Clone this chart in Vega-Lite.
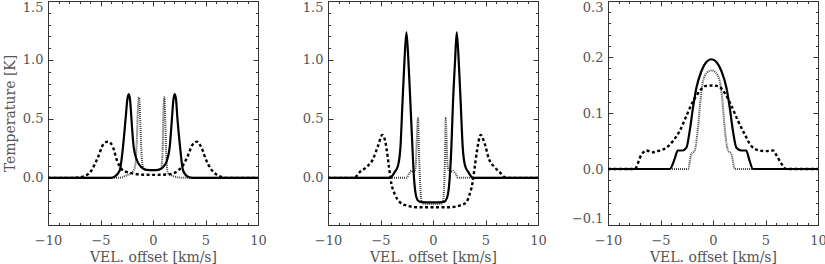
{
  "$schema": "https://vega.github.io/schema/vega-lite/v6.json",
  "autosize": {"type": "pad"},
  "padding": {"left": 2, "top": 0, "right": 0, "bottom": 0},
  "bounds": "flush",
  "spacing": 70,
  "config": {
    "view": {"stroke": "#333", "strokeWidth": 1},
    "axis": {"labelFont": "DejaVu Serif", "labelFontSize": 13, "labelColor": "#555", "titleFont": "DejaVu Serif", "titleFontSize": 14, "titleFontWeight": "normal", "titleColor": "#555", "tickColor": "#333", "tickWidth": 1, "domain": false, "grid": false},
    "axisX": {"labelFlush": false}
  },
  "datasets": {
    "p1solid": [{"vel":-10,"temp":0},{"vel":-4,"temp":0},{"vel":-3.65,"temp":0.01},{"vel":-3.17,"temp":0.062},{"vel":-2.86,"temp":0.26},{"vel":-2.6,"temp":0.51},{"vel":-2.45,"temp":0.66},{"vel":-2.31,"temp":0.71},{"vel":-2.18,"temp":0.66},{"vel":-2.06,"temp":0.51},{"vel":-1.84,"temp":0.26},{"vel":-1.52,"temp":0.147},{"vel":-1.11,"temp":0.09},{"vel":-0.63,"temp":0.068},{"vel":0,"temp":0.065},{"vel":0.48,"temp":0.068},{"vel":0.95,"temp":0.09},{"vel":1.33,"temp":0.147},{"vel":1.59,"temp":0.26},{"vel":1.81,"temp":0.51},{"vel":1.94,"temp":0.66},{"vel":2.07,"temp":0.71},{"vel":2.2,"temp":0.66},{"vel":2.32,"temp":0.51},{"vel":2.58,"temp":0.26},{"vel":2.86,"temp":0.062},{"vel":3.33,"temp":0.01},{"vel":3.8,"temp":0},{"vel":10,"temp":0}],
    "p1dot": [{"vel":-10,"temp":0},{"vel":-3.3,"temp":0},{"vel":-2.54,"temp":0.02},{"vel":-1.97,"temp":0.05},{"vel":-1.7,"temp":0.1},{"vel":-1.55,"temp":0.3},{"vel":-1.45,"temp":0.55},{"vel":-1.33,"temp":0.683},{"vel":-1.22,"temp":0.5},{"vel":-1.1,"temp":0.22},{"vel":-0.95,"temp":0.09},{"vel":-0.7,"temp":0.068},{"vel":0,"temp":0.065},{"vel":0.6,"temp":0.068},{"vel":0.8,"temp":0.09},{"vel":0.92,"temp":0.25},{"vel":0.98,"temp":0.5},{"vel":1.08,"temp":0.683},{"vel":1.18,"temp":0.45},{"vel":1.28,"temp":0.15},{"vel":1.43,"temp":0.04},{"vel":1.8,"temp":0.02},{"vel":2.3,"temp":0.005},{"vel":3,"temp":0},{"vel":10,"temp":0}],
    "p1dash": [{"vel":-10,"temp":0},{"vel":-7.62,"temp":0},{"vel":-6.67,"temp":0.01},{"vel":-5.87,"temp":0.062},{"vel":-5.24,"temp":0.175},{"vel":-4.76,"temp":0.28},{"vel":-4.29,"temp":0.307},{"vel":-3.81,"temp":0.26},{"vel":-3.43,"temp":0.147},{"vel":-3.0,"temp":0.076},{"vel":-2.54,"temp":0.05},{"vel":-1.9,"temp":0.037},{"vel":-1.27,"temp":0.028},{"vel":0,"temp":0.025},{"vel":1.27,"temp":0.028},{"vel":1.9,"temp":0.037},{"vel":2.38,"temp":0.062},{"vel":2.86,"temp":0.107},{"vel":3.33,"temp":0.19},{"vel":3.75,"temp":0.28},{"vel":4.19,"temp":0.307},{"vel":4.6,"temp":0.26},{"vel":5.08,"temp":0.147},{"vel":5.56,"temp":0.07},{"vel":6.19,"temp":0.02},{"vel":6.98,"temp":0},{"vel":10,"temp":0}],
    "p2solid": [{"vel":-10,"temp":0},{"vel":-4.12,"temp":0},{"vel":-3.65,"temp":0.048},{"vel":-3.33,"temp":0.104},{"vel":-3.1,"temp":0.26},{"vel":-2.91,"temp":0.63},{"vel":-2.72,"temp":0.99},{"vel":-2.53,"temp":1.234},{"vel":-2.34,"temp":0.99},{"vel":-2.15,"temp":0.63},{"vel":-1.96,"temp":0.26},{"vel":-1.81,"temp":0},{"vel":-1.65,"temp":-0.136},{"vel":-1.43,"temp":-0.192},{"vel":-1.11,"temp":-0.206},{"vel":0,"temp":-0.208},{"vel":0.95,"temp":-0.206},{"vel":1.21,"temp":-0.192},{"vel":1.43,"temp":-0.136},{"vel":1.59,"temp":0},{"vel":1.75,"temp":0.26},{"vel":1.9,"temp":0.63},{"vel":2.1,"temp":0.99},{"vel":2.26,"temp":1.234},{"vel":2.45,"temp":0.99},{"vel":2.64,"temp":0.63},{"vel":2.83,"temp":0.26},{"vel":3.05,"temp":0.104},{"vel":3.37,"temp":0.048},{"vel":3.81,"temp":0},{"vel":10,"temp":0}],
    "p2dot": [{"vel":-10,"temp":0},{"vel":-2.53,"temp":0},{"vel":-2.28,"temp":0.034},{"vel":-2.06,"temp":0.06},{"vel":-1.84,"temp":0.048},{"vel":-1.65,"temp":0.09},{"vel":-1.55,"temp":0.3},{"vel":-1.43,"temp":0.505},{"vel":-1.33,"temp":0.2},{"vel":-1.22,"temp":-0.05},{"vel":-1.1,"temp":-0.2},{"vel":-0.9,"temp":-0.22},{"vel":0,"temp":-0.222},{"vel":0.75,"temp":-0.22},{"vel":0.95,"temp":-0.2},{"vel":1.07,"temp":-0.05},{"vel":1.15,"temp":0.2},{"vel":1.21,"temp":0.505},{"vel":1.3,"temp":0.3},{"vel":1.4,"temp":0.09},{"vel":1.65,"temp":0.048},{"vel":1.9,"temp":0.06},{"vel":2.16,"temp":0.034},{"vel":2.38,"temp":0},{"vel":10,"temp":0}],
    "p2dash": [{"vel":-10,"temp":0},{"vel":-7.5,"temp":0},{"vel":-6.98,"temp":0.048},{"vel":-6.35,"temp":0.09},{"vel":-5.71,"temp":0.16},{"vel":-5.24,"temp":0.27},{"vel":-4.82,"temp":0.364},{"vel":-4.5,"temp":0.29},{"vel":-4.19,"temp":0.09},{"vel":-3.96,"temp":-0.05},{"vel":-3.65,"temp":-0.136},{"vel":-3.17,"temp":-0.206},{"vel":-2.53,"temp":-0.235},{"vel":-1.58,"temp":-0.249},{"vel":0,"temp":-0.25},{"vel":1.6,"temp":-0.249},{"vel":2.54,"temp":-0.235},{"vel":3.18,"temp":-0.206},{"vel":3.5,"temp":-0.136},{"vel":3.75,"temp":-0.05},{"vel":3.97,"temp":0.09},{"vel":4.19,"temp":0.23},{"vel":4.54,"temp":0.364},{"vel":4.92,"temp":0.29},{"vel":5.33,"temp":0.16},{"vel":5.87,"temp":0.09},{"vel":6.35,"temp":0.048},{"vel":6.98,"temp":0},{"vel":10,"temp":0}],
    "p3solid": [{"vel":-10,"temp":0},{"vel":-4.12,"temp":0},{"vel":-3.65,"temp":0.018},{"vel":-3.36,"temp":0.033},{"vel":-2.9,"temp":0.033},{"vel":-2.53,"temp":0.038},{"vel":-2.22,"temp":0.068},{"vel":-1.9,"temp":0.11},{"vel":-1.58,"temp":0.145},{"vel":-1.1,"temp":0.175},{"vel":-0.63,"temp":0.191},{"vel":-0.15,"temp":0.196},{"vel":0.32,"temp":0.191},{"vel":0.8,"temp":0.175},{"vel":1.28,"temp":0.145},{"vel":1.59,"temp":0.11},{"vel":1.9,"temp":0.068},{"vel":2.23,"temp":0.038},{"vel":2.7,"temp":0.033},{"vel":3.17,"temp":0.033},{"vel":3.43,"temp":0.018},{"vel":3.81,"temp":0},{"vel":10,"temp":0}],
    "p3dot": [{"vel":-10,"temp":0},{"vel":-2.38,"temp":0},{"vel":-2.06,"temp":0.027},{"vel":-1.74,"temp":0.033},{"vel":-1.43,"temp":0.074},{"vel":-1.2,"temp":0.121},{"vel":-0.95,"temp":0.157},{"vel":-0.57,"temp":0.172},{"vel":-0.15,"temp":0.176},{"vel":0.26,"temp":0.172},{"vel":0.64,"temp":0.157},{"vel":0.9,"temp":0.121},{"vel":1.11,"temp":0.074},{"vel":1.43,"temp":0.033},{"vel":1.75,"temp":0.027},{"vel":2.07,"temp":0},{"vel":10,"temp":0}],
    "p3dash": [{"vel":-10,"temp":0},{"vel":-7.46,"temp":0},{"vel":-6.83,"temp":0.025},{"vel":-6.35,"temp":0.033},{"vel":-5.71,"temp":0.03},{"vel":-5.08,"temp":0.033},{"vel":-4.44,"temp":0.038},{"vel":-3.81,"temp":0.05},{"vel":-3.17,"temp":0.068},{"vel":-2.53,"temp":0.095},{"vel":-1.9,"temp":0.121},{"vel":-1.27,"temp":0.139},{"vel":-0.79,"temp":0.148},{"vel":0,"temp":0.149},{"vel":0.48,"temp":0.148},{"vel":1.11,"temp":0.136},{"vel":1.75,"temp":0.113},{"vel":2.38,"temp":0.086},{"vel":3.02,"temp":0.062},{"vel":3.65,"temp":0.041},{"vel":4.44,"temp":0.033},{"vel":5.08,"temp":0.032},{"vel":5.71,"temp":0.033},{"vel":6.03,"temp":0.025},{"vel":6.5,"temp":0.01},{"vel":6.98,"temp":0},{"vel":10,"temp":0}]
  },
  "hconcat": [
    {
      "width": 210, "height": 224,
      "layer": [
        {"data": {"name": "p1dot"}, "mark": {"type": "line", "interpolate": "monotone", "color": "#444", "strokeWidth": 2, "strokeDash": [1, 1]},
         "encoding": {
           "x": {"field": "vel", "type": "quantitative", "scale": {"domain": [-10, 10], "nice": false, "zero": false}, "axis": {"orient": "bottom", "values": [-10, -5, 0, 5, 10], "tickSize": -5, "labelPadding": 14, "format": "d", "title": "VEL. offset [km/s]", "titlePadding": 3}},
           "y": {"field": "temp", "type": "quantitative", "scale": {"domain": [-0.4, 1.5], "nice": false, "zero": false}, "axis": {"orient": "left", "values": [0, 0.5, 1, 1.5], "tickSize": -5, "labelPadding": 10, "format": ".1f", "labelFlush": true, "title": "Temperature [K]", "titlePadding": 5}}}},
        {"data": {"name": "p1dash"}, "mark": {"type": "line", "interpolate": "monotone", "color": "black", "strokeWidth": 2.4, "strokeDash": [3, 2.5]},
         "encoding": {
           "x": {"field": "vel", "type": "quantitative", "scale": {"domain": [-10, 10], "nice": false, "zero": false}, "axis": {"orient": "top", "values": [-10, -5, 0, 5, 10], "tickSize": -5, "labels": false, "title": null}},
           "y": {"field": "temp", "type": "quantitative", "scale": {"domain": [-0.4, 1.5], "nice": false, "zero": false}, "axis": {"orient": "right", "values": [0, 0.5, 1, 1.5], "tickSize": -5, "labels": false, "title": null}}}},
        {"data": {"name": "p1solid"}, "mark": {"type": "line", "interpolate": "monotone", "color": "black", "strokeWidth": 2.2},
         "encoding": {
           "x": {"field": "vel", "type": "quantitative", "scale": {"domain": [-10, 10], "nice": false, "zero": false}, "axis": {"orient": "bottom", "values": [-9, -8, -7, -6, -4, -3, -2, -1, 1, 2, 3, 4, 6, 7, 8, 9], "tickSize": -2.5, "labels": false, "title": null}},
           "y": {"field": "temp", "type": "quantitative", "scale": {"domain": [-0.4, 1.5], "nice": false, "zero": false}, "axis": {"orient": "left", "values": [-0.3, -0.2, -0.1, 0.1, 0.2, 0.3, 0.4, 0.6, 0.7, 0.8, 0.9, 1.1, 1.2, 1.3, 1.4], "tickSize": -2.5, "labels": false, "title": null}}}},
        {"data": {"name": "p1solid"}, "mark": {"type": "line", "strokeOpacity": 0},
         "encoding": {
           "x": {"field": "vel", "type": "quantitative", "scale": {"domain": [-10, 10], "nice": false, "zero": false}, "axis": {"orient": "top", "values": [-9, -8, -7, -6, -4, -3, -2, -1, 1, 2, 3, 4, 6, 7, 8, 9], "tickSize": -2.5, "labels": false, "title": null}},
           "y": {"field": "temp", "type": "quantitative", "scale": {"domain": [-0.4, 1.5], "nice": false, "zero": false}, "axis": {"orient": "right", "values": [-0.3, -0.2, -0.1, 0.1, 0.2, 0.3, 0.4, 0.6, 0.7, 0.8, 0.9, 1.1, 1.2, 1.3, 1.4], "tickSize": -2.5, "labels": false, "title": null}}}}
      ],
      "resolve": {"axis": {"x": "independent", "y": "independent"}}
    },
    {
      "width": 210, "height": 224,
      "layer": [
        {"data": {"name": "p2dot"}, "mark": {"type": "line", "interpolate": "monotone", "color": "#444", "strokeWidth": 2, "strokeDash": [1, 1]},
         "encoding": {
           "x": {"field": "vel", "type": "quantitative", "scale": {"domain": [-10, 10], "nice": false, "zero": false}, "axis": {"orient": "bottom", "values": [-10, -5, 0, 5, 10], "tickSize": -5, "labelPadding": 14, "format": "d", "title": "VEL. offset [km/s]", "titlePadding": 3}},
           "y": {"field": "temp", "type": "quantitative", "scale": {"domain": [-0.4, 1.5], "nice": false, "zero": false}, "axis": {"orient": "left", "values": [0, 0.5, 1, 1.5], "tickSize": -5, "labelPadding": 10, "format": ".1f", "labelFlush": true, "title": null}}}},
        {"data": {"name": "p2dash"}, "mark": {"type": "line", "interpolate": "monotone", "color": "black", "strokeWidth": 2.4, "strokeDash": [3, 2.5]},
         "encoding": {
           "x": {"field": "vel", "type": "quantitative", "scale": {"domain": [-10, 10], "nice": false, "zero": false}, "axis": {"orient": "top", "values": [-10, -5, 0, 5, 10], "tickSize": -5, "labels": false, "title": null}},
           "y": {"field": "temp", "type": "quantitative", "scale": {"domain": [-0.4, 1.5], "nice": false, "zero": false}, "axis": {"orient": "right", "values": [0, 0.5, 1, 1.5], "tickSize": -5, "labels": false, "title": null}}}},
        {"data": {"name": "p2solid"}, "mark": {"type": "line", "interpolate": "monotone", "color": "black", "strokeWidth": 2.2},
         "encoding": {
           "x": {"field": "vel", "type": "quantitative", "scale": {"domain": [-10, 10], "nice": false, "zero": false}, "axis": {"orient": "bottom", "values": [-9, -8, -7, -6, -4, -3, -2, -1, 1, 2, 3, 4, 6, 7, 8, 9], "tickSize": -2.5, "labels": false, "title": null}},
           "y": {"field": "temp", "type": "quantitative", "scale": {"domain": [-0.4, 1.5], "nice": false, "zero": false}, "axis": {"orient": "left", "values": [-0.3, -0.2, -0.1, 0.1, 0.2, 0.3, 0.4, 0.6, 0.7, 0.8, 0.9, 1.1, 1.2, 1.3, 1.4], "tickSize": -2.5, "labels": false, "title": null}}}},
        {"data": {"name": "p2solid"}, "mark": {"type": "line", "strokeOpacity": 0},
         "encoding": {
           "x": {"field": "vel", "type": "quantitative", "scale": {"domain": [-10, 10], "nice": false, "zero": false}, "axis": {"orient": "top", "values": [-9, -8, -7, -6, -4, -3, -2, -1, 1, 2, 3, 4, 6, 7, 8, 9], "tickSize": -2.5, "labels": false, "title": null}},
           "y": {"field": "temp", "type": "quantitative", "scale": {"domain": [-0.4, 1.5], "nice": false, "zero": false}, "axis": {"orient": "right", "values": [-0.3, -0.2, -0.1, 0.1, 0.2, 0.3, 0.4, 0.6, 0.7, 0.8, 0.9, 1.1, 1.2, 1.3, 1.4], "tickSize": -2.5, "labels": false, "title": null}}}}
      ],
      "resolve": {"axis": {"x": "independent", "y": "independent"}}
    },
    {
      "width": 210, "height": 224,
      "layer": [
        {"data": {"name": "p3dot"}, "mark": {"type": "line", "interpolate": "monotone", "color": "#444", "strokeWidth": 2, "strokeDash": [1, 1]},
         "encoding": {
           "x": {"field": "vel", "type": "quantitative", "scale": {"domain": [-10, 10], "nice": false, "zero": false}, "axis": {"orient": "bottom", "values": [-10, -5, 0, 5, 10], "tickSize": -5, "labelPadding": 14, "format": "d", "title": "VEL. offset [km/s]", "titlePadding": 3}},
           "y": {"field": "temp", "type": "quantitative", "scale": {"domain": [-0.1, 0.3], "nice": false, "zero": false}, "axis": {"orient": "left", "values": [-0.1, 0, 0.1, 0.2, 0.3], "tickSize": -5, "labelPadding": 10, "format": ".1f", "labelFlush": true, "title": null}}}},
        {"data": {"name": "p3dash"}, "mark": {"type": "line", "interpolate": "monotone", "color": "black", "strokeWidth": 2.4, "strokeDash": [3, 2.5]},
         "encoding": {
           "x": {"field": "vel", "type": "quantitative", "scale": {"domain": [-10, 10], "nice": false, "zero": false}, "axis": {"orient": "top", "values": [-10, -5, 0, 5, 10], "tickSize": -5, "labels": false, "title": null}},
           "y": {"field": "temp", "type": "quantitative", "scale": {"domain": [-0.1, 0.3], "nice": false, "zero": false}, "axis": {"orient": "right", "values": [-0.1, 0, 0.1, 0.2, 0.3], "tickSize": -5, "labels": false, "title": null}}}},
        {"data": {"name": "p3solid"}, "mark": {"type": "line", "interpolate": "monotone", "color": "black", "strokeWidth": 2.2},
         "encoding": {
           "x": {"field": "vel", "type": "quantitative", "scale": {"domain": [-10, 10], "nice": false, "zero": false}, "axis": {"orient": "bottom", "values": [-9, -8, -7, -6, -4, -3, -2, -1, 1, 2, 3, 4, 6, 7, 8, 9], "tickSize": -2.5, "labels": false, "title": null}},
           "y": {"field": "temp", "type": "quantitative", "scale": {"domain": [-0.1, 0.3], "nice": false, "zero": false}, "axis": {"orient": "left", "values": [-0.08, -0.06, -0.04, -0.02, 0.02, 0.04, 0.06, 0.08, 0.12, 0.14, 0.16, 0.18, 0.22, 0.24, 0.26, 0.28], "tickSize": -2.5, "labels": false, "title": null}}}},
        {"data": {"name": "p3solid"}, "mark": {"type": "line", "strokeOpacity": 0},
         "encoding": {
           "x": {"field": "vel", "type": "quantitative", "scale": {"domain": [-10, 10], "nice": false, "zero": false}, "axis": {"orient": "top", "values": [-9, -8, -7, -6, -4, -3, -2, -1, 1, 2, 3, 4, 6, 7, 8, 9], "tickSize": -2.5, "labels": false, "title": null}},
           "y": {"field": "temp", "type": "quantitative", "scale": {"domain": [-0.1, 0.3], "nice": false, "zero": false}, "axis": {"orient": "right", "values": [-0.08, -0.06, -0.04, -0.02, 0.02, 0.04, 0.06, 0.08, 0.12, 0.14, 0.16, 0.18, 0.22, 0.24, 0.26, 0.28], "tickSize": -2.5, "labels": false, "title": null}}}}
      ],
      "resolve": {"axis": {"x": "independent", "y": "independent"}}
    }
  ]
}
